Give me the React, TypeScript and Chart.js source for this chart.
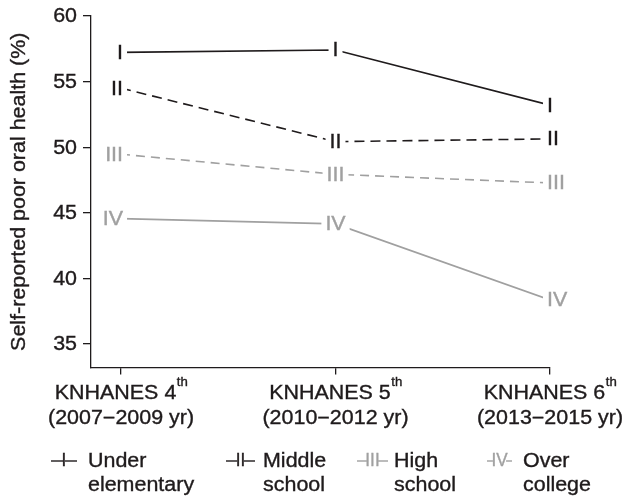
import React, { useEffect, useRef } from "react";
import { Chart, registerables } from "chart.js";

Chart.register(...registerables);

// ---- data ----
const categories = ["KNHANES 4", "KNHANES 5", "KNHANES 6"];
const categorySup = ["th", "th", "th"];
const periods = ["(2007\u22122009 yr)", "(2010\u22122012 yr)", "(2013\u22122015 yr)"];
const underElementary = [57.23, 57.41, 53.2];
const middleSchool = [54.5, 50.42, 50.63];
const highSchool = [49.46, 47.93, 47.27];
const overCollege = [44.55, 44.15, 38.35];
const yTicks = [35, 40, 45, 50, 55, 60];
const groupNumerals = ["I", "II", "III", "IV"];
const groupNames = [
  ["Under", "elementary"],
  ["Middle", "school"],
  ["High", "school"],
  ["Over", "college"],
];
const yTitle = "Self-reported poor oral health (%)";

// ---- styles ----
const FAMILY = '"Liberation Sans", Arial, Helvetica, sans-serif';
const FS = 19.5;
const SX = 1.1;
const DARK = "#1f1b1c";
const GRAY = "#a0a0a0";
const seriesStyles = [
  { color: DARK, dash: [] as number[] },
  { color: DARK, dash: [10, 6] },
  { color: GRAY, dash: [9, 6] },
  { color: GRAY, dash: [] as number[] },
];
const legendPos = [
  { sym: 51, w: 26, text: 88 },
  { sym: 226, w: 29, text: 263 },
  { sym: 357, w: 31, text: 394 },
  { sym: 487, w: 25, text: 523 },
];

function drawScaledText(
  ctx: CanvasRenderingContext2D,
  text: string,
  x: number,
  y: number,
  size: number,
  color: string,
  align: CanvasTextAlign,
  baseline: CanvasTextBaseline,
  sx: number = SX
) {
  ctx.save();
  ctx.font = `${size}px ${FAMILY}`;
  ctx.fillStyle = color;
  ctx.strokeStyle = color;
  ctx.lineWidth = 0.35;
  ctx.textAlign = align;
  ctx.textBaseline = baseline;
  ctx.translate(x, y);
  ctx.scale(sx, 1);
  ctx.fillText(text, 0, 0);
  ctx.strokeText(text, 0, 0);
  ctx.restore();
}

function measure(ctx: CanvasRenderingContext2D, text: string, size: number, sx: number = SX) {
  ctx.save();
  ctx.font = `${size}px ${FAMILY}`;
  const w = ctx.measureText(text).width * sx;
  ctx.restore();
  return w;
}

const customPlugin = {
  id: "customDraw",
  afterDatasetsDraw(chart: any) {
    const ctx: CanvasRenderingContext2D = chart.ctx;
    const xs = chart.scales.x;
    const ys = chart.scales.y;
    chart.data.datasets.forEach((ds: any, di: number) => {
      const color = seriesStyles[di].color;
      const label = groupNumerals[di];
      ds.data.forEach((pt: any, i: number) => {
        const px = xs.getPixelForValue(pt.x);
        const py = ys.getPixelForValue(pt.y);
        const w = measure(ctx, label, FS);
        let left: number;
        if (i === 0) left = px + 2 - w;
        else if (i === ds.data.length - 1) left = px - 3;
        else left = px - w / 2;
        ctx.save();
        ctx.fillStyle = "#ffffff";
        ctx.fillRect(left - 4, py - 10, w + 8, 20);
        ctx.restore();
        drawScaledText(ctx, label, left, py + 1, FS, color, "left", "middle");
      });
    });
  },
  afterDraw(chart: any) {
    const ctx: CanvasRenderingContext2D = chart.ctx;
    const xs = chart.scales.x;
    const ys = chart.scales.y;
    const area = chart.chartArea;

    // y tick labels
    yTicks.forEach((t) => {
      const py = ys.getPixelForValue(t);
      drawScaledText(ctx, String(t), 77, py + 1, FS, DARK, "right", "middle");
    });

    // y title
    ctx.save();
    ctx.translate(20, (area.top + area.bottom) / 2);
    ctx.rotate(-Math.PI / 2);
    ctx.scale(SX, 1);
    ctx.font = `${FS}px ${FAMILY}`;
    ctx.fillStyle = DARK;
    ctx.strokeStyle = DARK;
    ctx.lineWidth = 0.35;
    ctx.textAlign = "center";
    ctx.textBaseline = "middle";
    ctx.fillText(yTitle, 0, 0);
    ctx.strokeText(yTitle, 0, 0);
    ctx.restore();

    // x labels
    categories.forEach((c, i) => {
      const px = xs.getPixelForValue(i);
      const w1 = measure(ctx, c, FS);
      const w2 = measure(ctx, categorySup[i], 12);
      const start = px - (w1 + w2) / 2;
      drawScaledText(ctx, c, start, 399, FS, DARK, "left", "alphabetic");
      drawScaledText(ctx, categorySup[i], start + w1 + 0.5, 386, 12, DARK, "left", "alphabetic");
      drawScaledText(ctx, periods[i], px, 424, FS, DARK, "center", "alphabetic");
    });

    // legend
    groupNumerals.forEach((num, i) => {
      const pos = legendPos[i];
      const st = seriesStyles[i];
      const ly = 461;
      ctx.save();
      ctx.strokeStyle = st.color;
      ctx.lineWidth = 1.4;
      ctx.beginPath();
      ctx.moveTo(pos.sym, ly);
      ctx.lineTo(pos.sym + pos.w, ly);
      ctx.stroke();
      ctx.restore();
      const cx = pos.sym + pos.w / 2;
      const nw = measure(ctx, num, 18, 0.95);
      ctx.save();
      ctx.fillStyle = "#ffffff";
      ctx.fillRect(cx - nw / 2 + 1.5, ly - 1, Math.max(0, nw - 3), 2);
      ctx.restore();
      drawScaledText(ctx, num, cx, ly + 0.5, 18, st.color, "center", "middle", 0.95);
      drawScaledText(ctx, groupNames[i][0], pos.text, 467, FS, DARK, "left", "alphabetic");
      drawScaledText(ctx, groupNames[i][1], pos.text, 491, FS, DARK, "left", "alphabetic");
    });
  },
};

export default function App() {
  const ref = useRef<HTMLCanvasElement | null>(null);

  useEffect(() => {
    document.body.style.margin = "0";
    const canvas = ref.current;
    if (!canvas) return;
    const series = [underElementary, middleSchool, highSchool, overCollege];
    const chart = new Chart(canvas, {
      type: "line",
      data: {
        datasets: series.map((vals, di) => ({
          label: groupNames[di].join(" "),
          data: vals.map((v, i) => ({ x: i, y: v })),
          borderColor: seriesStyles[di].color,
          borderDash: seriesStyles[di].dash,
          borderWidth: 1.6,
          pointRadius: 0,
          fill: false,
          tension: 0,
        })),
      },
      options: {
        animation: false,
        responsive: false,
        devicePixelRatio: 1,
        layout: { padding: { top: 16, right: 75, left: 0, bottom: 0 } },
        plugins: {
          legend: { display: false },
          tooltip: { enabled: false },
          title: { display: false },
        },
        scales: {
          x: {
            type: "linear",
            min: -0.14,
            max: 2,
            afterBuildTicks: (s: any) => {
              s.ticks = categories.map((_, i) => ({ value: i }));
            },
            afterFit: (s: any) => {
              s.height = 131.5;
            },
            ticks: { display: false },
            grid: {
              display: true,
              drawOnChartArea: false,
              drawTicks: true,
              tickLength: 7,
              color: DARK,
              lineWidth: 1.3,
            },
            border: { display: true, color: DARK, width: 1.3 },
          },
          y: {
            type: "linear",
            min: 33.2,
            max: 60,
            afterBuildTicks: (s: any) => {
              s.ticks = yTicks.map((v) => ({ value: v }));
            },
            afterFit: (s: any) => {
              s.width = 91;
            },
            ticks: { display: false },
            grid: {
              display: true,
              drawOnChartArea: false,
              drawTicks: true,
              tickLength: 8,
              color: DARK,
              lineWidth: 1.3,
            },
            border: { display: true, color: DARK, width: 1.3 },
          },
        },
      },
      plugins: [customPlugin],
    });
    return () => chart.destroy();
  }, []);

  return (
    <div style={{ width: 625, height: 499, background: "#fff" }}>
      <canvas ref={ref} width={625} height={499} style={{ display: "block" }} />
    </div>
  );
}
